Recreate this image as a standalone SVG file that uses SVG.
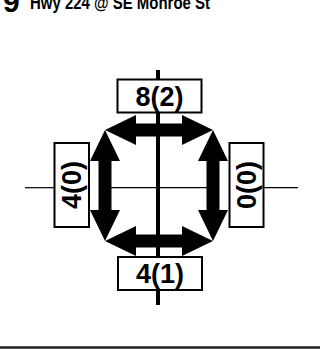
<svg xmlns="http://www.w3.org/2000/svg" width="320" height="349" viewBox="0 0 320 349">
<style>
.t{font-family:"Liberation Sans",Arial,sans-serif;font-weight:bold;fill:#000}
.lbl{font-size:27px;text-anchor:middle}
.box{fill:#fff;stroke:#000;stroke-width:2}
.arr{fill:#000}
</style>
<rect width="320" height="349" fill="#fff"/>
<g id="title">
<text class="t" x="3" y="12" font-size="30">9</text>
<text class="t" x="30" y="9" font-size="18" textLength="180" lengthAdjust="spacingAndGlyphs">Hwy 224 @ SE Monroe St</text>
</g>
<g id="connectors">
<g id="streets" stroke="#000" fill="none">
<line x1="25" y1="187.7" x2="54" y2="187.7" stroke-width="1.2"/>
<line x1="105" y1="187.7" x2="213" y2="187.7" stroke-width="1.2"/>
<line x1="264" y1="187.7" x2="298" y2="187.7" stroke-width="1.2"/>
<line x1="158" y1="70" x2="158" y2="305" stroke-width="4"/>
</g>
<polygon class="arr" points="105,130 136,115 136,123.5 182,123.5 182,115 213,130 182,145 182,136.5 136,136.5 136,145"/>
<polygon class="arr" points="105,241 136,226 136,234.5 182,234.5 182,226 213,241 182,256 182,247.5 136,247.5 136,256"/>
<polygon class="arr" points="105,130 120,161 111.5,161 111.5,210 120,210 105,241 90,210 98.5,210 98.5,161 90,161"/>
<polygon class="arr" points="213,130 228,161 219.5,161 219.5,210 228,210 213,241 198,210 206.5,210 206.5,161 198,161"/>
</g>
<g id="north">
<rect class="box" x="117.5" y="79.5" width="84" height="33"/>
<text class="t lbl" x="159.5" y="105.5">8(2)</text>
</g>
<g id="south">
<rect class="box" x="118" y="257" width="84" height="33"/>
<text class="t lbl" x="160" y="283">4(1)</text>
</g>
<g id="west">
<rect class="box" x="54.5" y="143" width="34.5" height="84"/>
<text class="t lbl" transform="translate(71.7,185) rotate(-90)" x="0" y="9.5">4(0)</text>
</g>
<g id="east">
<rect class="box" x="229.5" y="143" width="34" height="84"/>
<text class="t lbl" transform="translate(246.5,185) rotate(-90)" x="0" y="9.5">0(0)</text>
</g>
<line x1="0" y1="347.5" x2="320" y2="347.5" stroke="#231f20" stroke-width="2.5"/>
</svg>
